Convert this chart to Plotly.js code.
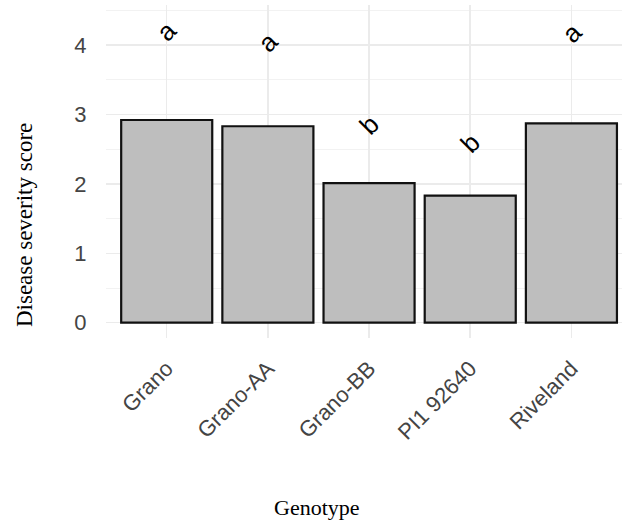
<!DOCTYPE html>
<html>
<head>
<meta charset="utf-8">
<script src="https://cdn.plot.ly/plotly-3.0.1.min.js"></script>
<style>html,body{margin:0;padding:0;background:#fff;}</style>
</head>
<body>
<div id="chart" style="width:622px;height:524px;"></div>
<script>
const genotypes = ["Grano", "Grano-AA", "Grano-BB", "PI1 92640", "Riveland"];
const severity = [2.92, 2.83, 2.01, 1.83, 2.87];
const groupLetters = ["a", "a", "b", "b", "a"];
const letterY = [4.2, 4.05, 2.85, 2.59, 4.18];
const yTicks = [0, 1, 2, 3, 4];

const trace = {
  type: "bar",
  x: genotypes,
  y: severity,
  width: 0.9,
  marker: { color: "#bebebe", line: { color: "#111111", width: 2.2 } },
  hoverinfo: "x+y"
};

const letterAnnotations = genotypes.map((g, i) => ({
  x: g, y: letterY[i], xref: "x", yref: "y",
  xanchor: "center", yanchor: "middle",
  text: groupLetters[i], showarrow: false, textangle: -45,
  font: { family: "Liberation Sans, Arial, sans-serif", size: 26, color: "#000000" }
}));

const layout = {
  width: 622, height: 524,
  margin: { l: 106, r: 0, t: 5, b: 186 },
  paper_bgcolor: "#ffffff", plot_bgcolor: "#ffffff",
  showlegend: false,
  xaxis: {
    type: "category",
    range: [-0.6, 4.5],
    showgrid: true, gridcolor: "#ebebeb", gridwidth: 1.5,
    zeroline: false, showline: false,
    tickangle: -45,
    ticks: "outside", ticklen: 8, tickcolor: "rgba(0,0,0,0)",
    tickfont: { family: "Liberation Sans, Arial, sans-serif", size: 22, color: "#444444" }
  },
  yaxis: {
    range: [-0.22, 4.576],
    tickvals: yTicks,
    showgrid: true, gridcolor: "#ebebeb", gridwidth: 1.5,
    minor: { dtick: 0.5, tick0: 0, showgrid: true, gridcolor: "#f2f2f2", gridwidth: 1 },
    zeroline: false, showline: false,
    ticks: "outside", ticklen: 14, tickcolor: "rgba(0,0,0,0)",
    tickfont: { family: "Liberation Sans, Arial, sans-serif", size: 22, color: "#444444" }
  },
  annotations: letterAnnotations.concat([
    {
      xref: "paper", yref: "paper", x: 0.4085, y: -0.5105,
      xanchor: "center", yanchor: "middle",
      text: "Genotype", showarrow: false,
      font: { family: "Liberation Serif, Times New Roman, serif", size: 22, color: "#000000" }
    },
    {
      xref: "paper", yref: "paper", x: -0.159, y: 0.339,
      xanchor: "center", yanchor: "middle",
      text: "Disease severity score", showarrow: false, textangle: -90,
      font: { family: "Liberation Serif, Times New Roman, serif", size: 23, color: "#000000" }
    }
  ])
};

Plotly.newPlot("chart", [trace], layout, { displayModeBar: false, staticPlot: true });
</script>
</body>
</html>
